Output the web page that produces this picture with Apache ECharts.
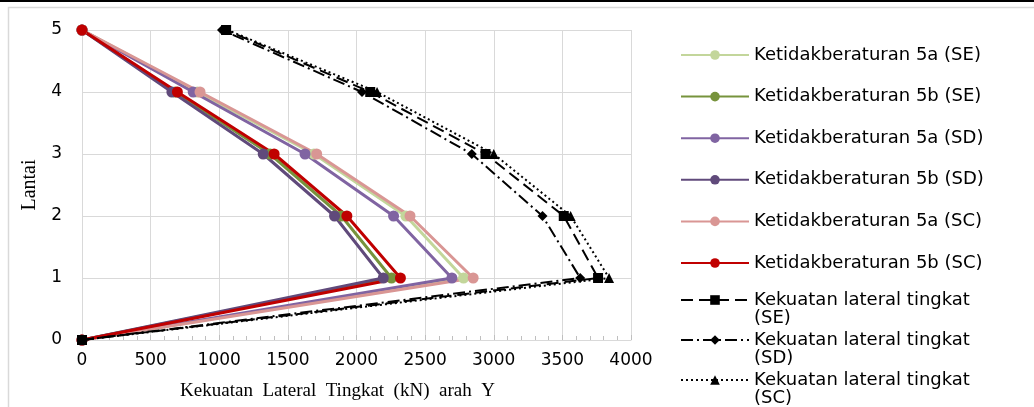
<!DOCTYPE html>
<html>
<head>
    <meta charset="utf-8">
    <title>Kekuatan Lateral Tingkat</title>
    <script src="https://cdnjs.cloudflare.com/ajax/libs/echarts/6.0.0/echarts.min.js"></script>
    <style>
        html, body { margin: 0; padding: 0; background: #fff; }
        #chart { width: 1034px; height: 407px; }
    </style>
</head>
<body>
    <div id="chart"></div>
    <script>
        // lantai (floor) for each data point
        var floors = [0, 1, 2, 3, 4, 5];

        // kekuatan lateral (kN) per floor
        var irr5aSE = [0, 2780, 2360, 1690, 840, 0];
        var irr5bSE = [0, 2255, 1890, 1370, 680, 0];
        var irr5aSD = [0, 2695, 2270, 1625, 810, 0];
        var irr5bSD = [0, 2195, 1840, 1320, 655, 0];
        var irr5aSC = [0, 2850, 2390, 1710, 860, 0];
        var irr5bSC = [0, 2320, 1930, 1400, 695, 0];
        var latSE = [0, 3760, 3510, 2940, 2100, 1050];
        var latSD = [0, 3630, 3355, 2840, 2040, 1020];
        var latSC = [0, 3840, 3560, 3000, 2150, 1060];

        var xTicks = [0, 500, 1000, 1500, 2000, 2500, 3000, 3500, 4000];
        var yTicks = [0, 1, 2, 3, 4, 5];

        function pts(vals) {
            return vals.map(function (v, i) { return [v, floors[i]]; });
        }

        function colorSeries(name, vals, color) {
            return {
                name: name,
                type: 'line',
                data: pts(vals),
                symbol: 'circle',
                symbolSize: 11,
                lineStyle: { color: color, width: 3 },
                itemStyle: { color: color },
                z: 2
            };
        }

        function blackSeries(name, vals, symbol, size, dash) {
            return {
                name: name,
                type: 'line',
                data: pts(vals),
                symbol: symbol,
                symbolSize: size,
                lineStyle: { color: '#000', width: 2, type: dash },
                itemStyle: { color: '#000' },
                z: 3
            };
        }

        var colorNames = [
            'Ketidakberaturan 5a (SE)', 'Ketidakberaturan 5b (SE)',
            'Ketidakberaturan 5a (SD)', 'Ketidakberaturan 5b (SD)',
            'Ketidakberaturan 5a (SC)', 'Ketidakberaturan 5b (SC)'
        ];
        var blackNames = [
            'Kekuatan lateral tingkat (SE)',
            'Kekuatan lateral tingkat (SD)',
            'Kekuatan lateral tingkat (SC)'
        ];

        var legendFont = 'DejaVu Sans';

        var chart = echarts.init(document.getElementById('chart'));
        chart.setOption({
            animation: false,
            graphic: [
                { type: 'rect', shape: { x: 8.5, y: 7.5, width: 1100, height: 500 },
                  style: { fill: 'none', stroke: '#d9d9d9', lineWidth: 1.5 }, silent: true },
                { type: 'rect', shape: { x: 0, y: 0, width: 1034, height: 2 },
                  style: { fill: '#000' }, silent: true }
            ],
            grid: { left: 82, top: 30, width: 549, height: 310 },
            legend: [{
                orient: 'vertical',
                left: 675,
                top: 41,
                itemWidth: 68,
                itemHeight: 12,
                itemGap: 23.6,
                data: colorNames,
                textStyle: { fontFamily: legendFont, fontSize: 18, color: '#000' }
            }, {
                orient: 'vertical',
                left: 675,
                top: 268,
                height: 200,
                itemWidth: 68,
                itemHeight: 12,
                itemGap: -14,
                data: blackNames,
                // blank first line keeps the icon level with the first text line
                formatter: function (n) { return ' \n' + n.replace(' (', '\n('); },
                textStyle: { fontFamily: legendFont, fontSize: 18, color: '#000', lineHeight: 18 }
            }],
            xAxis: {
                type: 'value',
                min: xTicks[0],
                max: xTicks[xTicks.length - 1],
                interval: xTicks[1] - xTicks[0],
                name: 'Kekuatan  Lateral  Tingkat  (kN)  arah  Y',
                nameLocation: 'middle',
                nameGap: 42,
                nameTextStyle: { fontFamily: 'Liberation Serif', fontSize: 19, color: '#000',
                                 padding: [0, 38, 0, 0] },
                axisLine: { show: true, lineStyle: { color: '#d9d9d9' } },
                axisTick: { show: true, inside: true, length: 5, lineStyle: { color: '#bfbfbf' } },
                minorTick: { show: true, splitNumber: 5, length: 4, lineStyle: { color: '#bfbfbf' } },
                axisLabel: { fontFamily: legendFont, fontSize: 17, color: '#000', margin: 12,
                             formatter: function (v) { return String(v); } },
                splitLine: { show: true, lineStyle: { color: '#d9d9d9' } }
            },
            yAxis: {
                type: 'value',
                min: yTicks[0],
                max: yTicks[yTicks.length - 1],
                interval: 1,
                name: 'Lantai',
                nameLocation: 'middle',
                nameGap: 42,
                nameTextStyle: { fontFamily: 'Liberation Serif', fontSize: 20, color: '#000' },
                axisLine: { show: true, lineStyle: { color: '#d9d9d9' } },
                axisTick: { show: false },
                axisLabel: { fontFamily: legendFont, fontSize: 17, color: '#000', margin: 20 },
                splitLine: { show: true, lineStyle: { color: '#d9d9d9' } }
            },
            series: [
                colorSeries(colorNames[0], irr5aSE, '#c3d69b'),
                colorSeries(colorNames[1], irr5bSE, '#77933c'),
                colorSeries(colorNames[2], irr5aSD, '#8064a2'),
                colorSeries(colorNames[3], irr5bSD, '#604a7b'),
                colorSeries(colorNames[4], irr5aSC, '#d99694'),
                colorSeries(colorNames[5], irr5bSC, '#c00000'),
                blackSeries(blackNames[0], latSE, 'rect', 10, [12, 6]),
                blackSeries(blackNames[1], latSD, 'diamond', 10, [12, 4, 2, 4]),
                blackSeries(blackNames[2], latSC, 'triangle', 10, [2, 3])
            ]
        });
    </script>
</body>
</html>
